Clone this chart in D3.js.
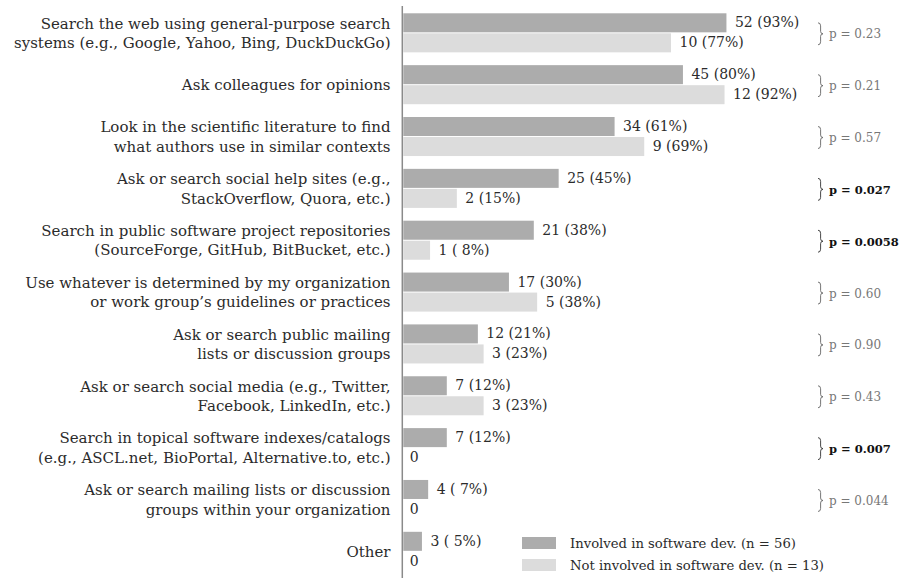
<!DOCTYPE html>
<html>
<head>
<meta charset="utf-8">
<script src="https://cdn.jsdelivr.net/npm/d3@7"></script>
<style>
  body { margin: 0; background: #fff; }
  text { font-family: "DejaVu Serif", serif; }
</style>
</head>
<body>
<svg id="chart" width="903" height="578"></svg>
<script>
// categories, each as one or two label lines
var categories = [
    ['Search the web using general-purpose search', 'systems (e.g., Google, Yahoo, Bing, DuckDuckGo)'],
    ['Ask colleagues for opinions'],
    ['Look in the scientific literature to find', 'what authors use in similar contexts'],
    ['Ask or search social help sites (e.g.,', 'StackOverflow, Quora, etc.)'],
    ['Search in public software project repositories', '(SourceForge, GitHub, BitBucket, etc.)'],
    ['Use whatever is determined by my organization', 'or work group\u2019s guidelines or practices'],
    ['Ask or search public mailing', 'lists or discussion groups'],
    ['Ask or search social media (e.g., Twitter,', 'Facebook, LinkedIn, etc.)'],
    ['Search in topical software indexes/catalogs', '(e.g., ASCL.net, BioPortal, Alternative.to, etc.)'],
    ['Ask or search mailing lists or discussion', 'groups within your organization'],
    ['Other']
];
var devCounts    = [52, 45, 34, 25, 21, 17, 12, 7, 7, 4, 3];
var devPct       = [93, 80, 61, 45, 38, 30, 21, 12, 12, 7, 5];
var nonDevCounts = [10, 12, 9, 2, 1, 5, 3, 3, 0, 0, 0];
var nonDevPct    = [77, 92, 69, 15, 8, 38, 23, 23, 0, 0, 0];
var pValues      = ['0.23', '0.21', '0.57', '0.027', '0.0058', '0.60', '0.90', '0.43', '0.007', '0.044', null];
var significant  = [false, false, false, true, true, false, false, false, true, false, false];
var groupN       = { dev: 56, nonDev: 13 };
var legendLabels = ['Involved in software dev. (n = 56)', 'Not involved in software dev. (n = 13)'];

(function(){
    'use strict';

    var svg = d3.select('#chart'),
        colors = { dev: '#acacac', nonDev: '#dcdcdc' },
        idx = d3.range(categories.length);

    var x = d3.scaleLinear().domain([0, 1]).range([403.3, 751.3]);

    var y = d3.scaleBand()
        .domain(idx)
        .range([13.3, 13.3 + 51.85 * idx.length - 12.8])
        .paddingInner(0.247)
        .paddingOuter(0);

    var sub = d3.scaleBand()
        .domain(['dev', 'nonDev'])
        .range([0, y.bandwidth()])
        .paddingInner(0.05);

    var rows = idx.map(function(i){
        return {
            i: i,
            label: categories[i],
            series: [
                { key: 'dev', count: devCounts[i], pct: devPct[i] },
                { key: 'nonDev', count: nonDevCounts[i], pct: nonDevPct[i] }
            ],
            p: pValues[i],
            sig: significant[i]
        };
    });

    function pad(v){
        return v < 10 ? ' ' + v : '' + v;
    }

    var $row = svg.selectAll('g.row')
        .data(rows)
        .enter().append('g')
        .attr('class', 'row')
        .attr('transform', function(d){ return 'translate(0,' + y(d.i) + ')'; });

    var mid = y.bandwidth() / 2;

    // category labels
    $row.append('text')
        .attr('text-anchor', 'end')
        .attr('font-size', 15)
        .attr('fill', '#2b2b2b')
        .selectAll('tspan')
        .data(function(d){ return d.label; })
        .enter().append('tspan')
        .attr('x', 390.5)
        .attr('y', function(l, j, all){
            var n = all.length;
            return mid + 5.5 + (j - (n - 1) / 2) * 19.5;
        })
        .text(function(l){ return l; });

    // bars
    var $bar = $row.selectAll('g.bar')
        .data(function(d){ return d.series; })
        .enter().append('g')
        .attr('class', 'bar')
        .attr('transform', function(s){ return 'translate(0,' + sub(s.key) + ')'; });

    $bar.append('rect')
        .attr('x', x(0))
        .attr('y', 0)
        .attr('height', sub.bandwidth())
        .attr('width', function(s){ return x(s.count / groupN[s.key]) - x(0); })
        .attr('fill', function(s){ return colors[s.key]; });

    $bar.append('text')
        .attr('x', function(s){ return x(s.count / groupN[s.key]) + (s.count ? 8.5 : 6.5); })
        .attr('y', sub.bandwidth() / 2 + 4.5)
        .attr('font-size', 14)
        .attr('fill', '#2b2b2b')
        .style('white-space', 'pre')
        .text(function(s){
            return s.count ? s.count + ' (' + pad(s.pct) + '%)' : '0';
        });

    // p-values with braces
    var $p = $row.filter(function(d){ return d.p !== null; })
        .append('g')
        .attr('transform', 'translate(818,' + (mid + 1) + ')');

    $p.append('path')
        .attr('d', 'M0,-11 Q2.6,-11 2.6,-8 L2.6,-2.5 Q2.6,0 5,0 Q2.6,0 2.6,2.5 L2.6,8 Q2.6,11 0,11')
        .attr('fill', 'none')
        .attr('stroke', function(d){ return d.sig ? '#333' : '#666'; })
        .attr('stroke-width', 0.9);

    $p.append('text')
        .attr('x', 11)
        .attr('y', 4.5)
        .attr('font-size', function(d){ return d.sig ? 11.5 : 12; })
        .attr('font-weight', function(d){ return d.sig ? 'bold' : 'normal'; })
        .attr('fill', function(d){ return d.sig ? '#111' : '#777'; })
        .text(function(d){ return 'p = ' + d.p; });

    // axis line
    svg.append('line')
        .attr('x1', 402.3).attr('x2', 402.3)
        .attr('y1', 6).attr('y2', 578)
        .attr('stroke', '#8a8a8a')
        .attr('stroke-width', 1.5);

    // legend
    var $legend = svg.selectAll('g.legend')
        .data(['dev', 'nonDev'])
        .enter().append('g')
        .attr('class', 'legend')
        .attr('transform', function(k, j){ return 'translate(522,' + (537 + j * 22) + ')'; });

    $legend.append('rect')
        .attr('width', 34)
        .attr('height', 12)
        .attr('fill', function(k){ return colors[k]; });

    $legend.append('text')
        .attr('x', 48)
        .attr('y', 10.5)
        .attr('font-size', 13.2)
        .attr('fill', '#2b2b2b')
        .text(function(k, j){ return legendLabels[j]; });
})();
</script>
</body>
</html>
